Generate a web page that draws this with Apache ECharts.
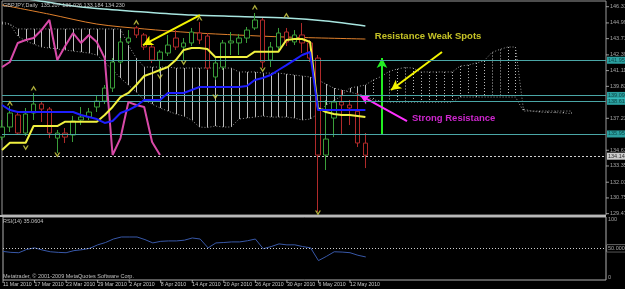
<!DOCTYPE html>
<html><head><meta charset="utf-8">
<script src="https://cdn.jsdelivr.net/npm/echarts/dist/echarts.min.js"></script>
<style>html,body{margin:0;padding:0;background:#000;}#c{width:625px;height:289px;}</style>
</head><body><div id="c"></div>
<script>
// ---- data ----
const dateLabels = ["11 Mar 2010","17 Mar 2010","23 Mar 2010","29 Mar 2010","2 Apr 2010","8 Apr 2010","14 Apr 2010","20 Apr 2010","26 Apr 2010","30 Apr 2010","6 May 2010","12 May 2010"];
const dateLabelBars = [0,4,8,12,16,20,24,28,32,36,40,44];

const openP  = [135.70,136.52,137.50,136.03,137.66,138.39,137.98,135.62,136.03,135.87,137.09,137.33,138.15,138.63,139.69,141.81,143.44,144.58,144.01,143.03,141.97,142.54,143.76,143.03,143.36,144.17,143.92,140.59,141.40,143.36,143.36,143.76,144.58,145.23,141.97,143.03,144.25,143.44,144.01,143.36,142.13,134.24,137.25,138.55,138.31,137.80,135.21];
const closeP = [136.52,137.66,136.03,137.58,138.39,137.98,136.03,136.03,135.70,137.01,137.33,137.74,138.63,139.69,141.81,143.44,143.76,144.01,143.03,141.97,142.62,143.19,143.03,143.36,144.25,143.60,141.32,141.73,143.36,143.52,143.76,144.41,145.23,141.81,143.03,144.17,143.44,144.01,143.36,142.13,134.24,135.54,138.55,138.31,138.07,135.22,134.23];
const highP  = [137.09,138.23,137.66,138.07,139.29,138.55,138.15,136.28,136.44,137.42,138.15,138.07,139.04,139.94,142.13,143.76,144.41,144.74,144.17,143.19,142.79,144.01,144.41,143.76,144.58,145.06,144.17,142.13,143.60,144.25,144.09,144.66,145.80,145.39,143.44,144.58,144.58,144.41,144.98,143.60,142.38,138.72,138.72,139.53,138.72,139.29,136.03];
const lowP   = [135.46,136.11,135.87,135.79,137.09,136.93,135.62,134.41,135.22,135.30,136.68,137.09,137.74,138.39,139.37,141.64,143.27,143.76,142.79,141.73,140.91,142.30,142.79,141.97,143.11,143.27,141.16,140.35,141.16,142.38,142.38,143.36,144.41,141.32,141.40,142.79,143.11,143.19,142.54,141.81,129.60,133.02,135.70,135.87,136.68,134.89,133.18];

const tenkan = [134.65,135.24,135.24,135.24,136.60,136.60,136.60,136.60,136.95,136.95,136.95,136.95,136.95,137.50,138.15,138.96,139.29,139.94,140.67,140.91,141.16,141.40,141.97,142.79,142.95,142.95,142.87,142.22,142.22,142.22,142.22,142.22,142.65,142.65,142.65,142.65,143.60,143.68,143.68,143.44,138.07,137.74,137.58,137.50,137.50,137.42,137.33];
const kijun  = [138.31,137.90,137.74,137.74,137.74,137.74,137.74,137.74,137.74,137.74,137.50,137.33,137.17,136.85,137.01,137.66,137.90,138.23,138.72,138.72,138.72,139.29,139.29,139.29,139.53,139.78,139.78,139.78,139.78,139.78,139.78,139.86,140.35,140.51,140.75,141.16,141.56,141.97,142.38,142.62,137.90,137.90,137.90,137.90,137.90,137.90,137.90];
const chikou = [141.40,141.81,143.36,143.60,143.76,144.41,145.23,141.97,143.11,144.17,143.36,144.01,143.44,142.13,134.24,135.62,138.55,138.31,138.15,135.30,134.24];
const senkouA = [144.90,144.90,143.92,143.52,143.27,143.03,142.95,142.87,142.79,142.70,142.62,142.54,142.38,141.81,141.16,140.51,139.94,139.37,138.72,138.39,138.07,137.82,137.58,137.42,137.09,136.52,136.48,136.60,136.52,136.52,137.17,137.25,137.33,137.42,137.33,137.33,137.33,137.25,137.09,137.17,137.58,138.31,138.64,139.08,139.69,139.81,139.94,140.35,140.63,141.04,141.24,141.36,141.32,141.00,141.00,141.00,141.00,141.00,141.48,141.56,141.73,141.89,142.58,142.83,143.03,143.03,137.98,137.82,137.74,137.70,137.70,137.66,137.62];
const senkouB = [145.07,144.90,144.50,144.50,144.50,144.50,144.50,144.50,144.50,144.50,144.50,144.50,144.50,144.50,144.50,144.50,143.19,142.13,141.40,141.40,141.40,141.40,141.32,141.32,141.32,141.32,141.32,141.32,141.32,141.32,141.00,141.00,141.00,140.91,140.91,140.91,140.83,140.75,140.67,140.59,140.35,140.02,139.69,139.53,139.37,139.20,139.04,138.72,138.64,138.55,138.55,138.55,138.55,138.55,138.55,138.55,138.55,138.55,138.96,138.96,138.96,138.96,138.96,138.96,138.96,138.96,137.82,137.82,137.82,137.82,137.82,137.82,137.82];

const maOrangeBars = [0,6,12,18,24,30,36,46];
const maOrangeVals = [146.45,145.70,144.90,144.50,144.20,144.00,143.84,143.68];
const maCyanBars = [2,4,8,12,18,24,30,36,41,46];
const maCyanVals = [147.05,146.86,146.45,146.16,145.88,145.63,145.51,145.39,145.15,144.74];

const rsi = [44.6,43,42.4,48,50.8,47,44,43,42.4,46,47.5,50,55.9,60,66,69.5,69.5,69.5,65,59.3,62,62.7,62.7,64,67.8,66,50.8,59.3,60,61,61,63,66,49.2,53,57.6,55.9,56,53,50.8,28.8,36,44,43.5,42.4,38,35.06];

const fractalUpBars = [1,4,17,25,32,36];
const fractalUpVals = [138.47,139.69,145.07,145.39,146.28,145.63];
const fractalDnBars = [3,7,20,23,27,33,40];
const fractalDnVals = [134.81,134.24,140.59,141.73,138.96,141.16,129.52];

const priceTicks = [146.310,144.990,143.710,142.390,141.110,139.830,137.230,134.630,133.350,132.030,130.750,129.470];
const levelLines = [141.952,139.091,138.610,135.954];
const bidPrice = 134.145;
const rsiTicks = [100,0];
const rsiLevel = 50;

const annotationArrows = [
  {from:[25.06,145.63], to:[17.85,143.19], color:'#f4f400'},
  {from:[55.70,142.62], to:[49.24,139.53], color:'#f4f400'},
  {from:[48.10,135.95], to:[48.10,142.14], color:'#22ee22'},
  {from:[51.27,137.00], to:[45.30,139.12], color:'#ff30ff'}
];
const annotationTexts = [
  {at:[47.2,143.93], text:'Resistance Weak Spots', color:'#f4f030'},
  {at:[51.9,137.25], text:'Strong Resistance', color:'#ff30ff'}
];

// ---- chart ----
const X_MAX = 76.46;
const lastBar = openP.length - 1;
const FONT = 'Liberation Sans';
const chart = echarts.init(document.getElementById('c'));

const ohlc = openP.map((o,i)=>[i,o,closeP[i],lowP[i],highP[i]]);
const idx = a => a.map((v,i)=>[i,v]);
const pairs = (b,v) => b.map((x,i)=>[x,v[i]]);

const upPath = 'path://M0,7 L4,0 L8,7 L6,7 L4,3.5 L2,7 Z';
const dnPath = 'path://M0,0 L4,7 L8,0 L6,0 L4,3.5 L2,0 Z';

chart.setOption({
  backgroundColor:'#000',
  animation:false,
  grid:[
    {left:2, right:19, top:1, height:214, show:true, borderColor:'#9a9a9a', borderWidth:1, backgroundColor:'transparent'},
    {left:2, right:19, top:217, height:63, show:true, borderColor:'#b0b0b0', borderWidth:1}
  ],
  xAxis:[
    {type:'value', gridIndex:0, min:0, max:X_MAX, show:false},
    {type:'value', gridIndex:1, min:0, max:X_MAX, interval:4,
     axisLine:{show:false}, axisTick:{show:false}, splitLine:{show:false},
     axisLabel:{show:true, margin:2, align:'left', color:'#c8c8c8', fontSize:5.2, fontFamily:FONT,
       showMaxLabel:false,
       formatter:v=>{const k=dateLabelBars.indexOf(v); return k>=0?dateLabels[k]:'';}}}
  ],
  yAxis:[
    {type:'value', gridIndex:0, min:129.361, max:146.774, show:false},
    {type:'value', gridIndex:1, min:-4.66, max:103.97, show:false}
  ],
  graphic:[
    {type:'rect', shape:{x:0,y:215,width:606,height:2}, style:{fill:'#b8b8b8'}, z:100},
    {type:'text', x:3, y:5, style:{text:'GBPJPY,Daily  135.207 136.026 133.184 134.230', fill:'#c0c0c0', font:'5.5px '+FONT, verticalAlign:'middle'}, z:100},
    {type:'text', x:3, y:221, style:{text:'RSI(14) 35.0604', fill:'#c0c0c0', font:'5.5px '+FONT, verticalAlign:'middle'}, z:100},
    {type:'text', x:3, y:276.5, style:{text:'Metatrader, \u00a9 2001-2009 MetaQuotes Software Corp.', fill:'#c0c0c0', font:'5.5px '+FONT, verticalAlign:'middle'}, z:100}
  ],
  series:[
    // cloud hatch
    {type:'custom', xAxisIndex:0, yAxisIndex:0, z:1, silent:true,
     data: senkouA.map((a,i)=>[i,a,senkouB[i]]),
     renderItem:(params, api)=>{
       const i = api.value(0);
       const p1 = api.coord([i, api.value(1)]);
       const p2 = api.coord([i, api.value(2)]);
       const x = Math.round(p1[0]) + 0.5;
       return {type:'line', shape:{x1:x,y1:p1[1],x2:x,y2:p2[1]},
         style:{stroke:'#bdbdbd', lineWidth:1, lineDash: i>lastBar ? [1,2] : null}};
     }},
    {type:'line', xAxisIndex:0, yAxisIndex:0, z:2, data:idx(senkouA), symbol:'none',
     lineStyle:{color:'#9a9a9a', width:1, type:[1,2]}, silent:true},
    {type:'line', xAxisIndex:0, yAxisIndex:0, z:2, data:idx(senkouB), symbol:'none',
     lineStyle:{color:'#9a9a9a', width:1, type:[1,2]}, silent:true},
    // MAs
    {type:'line', xAxisIndex:0, yAxisIndex:0, z:3, data:pairs(maOrangeBars,maOrangeVals), symbol:'none', smooth:0.3,
     lineStyle:{color:'#e0802c', width:1}},
    {type:'line', xAxisIndex:0, yAxisIndex:0, z:3, data:pairs(maCyanBars,maCyanVals), symbol:'none', smooth:0.3,
     lineStyle:{color:'#a8e6e0', width:1.5}},
    // candles
    {type:'candlestick', xAxisIndex:0, yAxisIndex:0, z:4, data:ohlc, barWidth:5, clip:false,
     itemStyle:{color:'#000', color0:'#000', borderColor:'#3a9e3a', borderColor0:'#b02a2a', borderWidth:1}},
    // chikou
    {type:'line', xAxisIndex:0, yAxisIndex:0, z:5, data:idx(chikou), symbol:'none',
     lineStyle:{color:'#d84aa8', width:2}},
    // tenkan
    {type:'line', xAxisIndex:0, yAxisIndex:0, z:6, data:idx(tenkan), symbol:'none',
     lineStyle:{color:'#f0f040', width:2},
     markLine:{silent:true, symbol:['none','none'], label:{show:false},
       data: annotationArrows.map(a=>[
         {coord:a.from, symbol:'none', lineStyle:{color:a.color, width:2, type:'solid'}},
         {coord:a.to, symbol:'arrow', symbolSize:[8,10], lineStyle:{color:a.color, width:2, type:'solid'}}
       ])}},
    // kijun
    {type:'line', xAxisIndex:0, yAxisIndex:0, z:6, data:idx(kijun), symbol:'none',
     lineStyle:{color:'#1e1eff', width:2},
     markLine:{silent:true, symbol:['none','none'], label:{show:false},
       data: levelLines.map(v=>({yAxis:v, lineStyle:{color:'#4aa6a6', width:1, type:'solid'}}))
         .concat([{yAxis:bidPrice, lineStyle:{color:'#d0d0d0', width:1, type:[2,2]}}])}},
    // fractals
    {type:'scatter', xAxisIndex:0, yAxisIndex:0, z:7, data:pairs(fractalUpBars,fractalUpVals),
     symbol:upPath, symbolSize:[6,5], itemStyle:{color:'#d8d84a'}},
    {type:'scatter', xAxisIndex:0, yAxisIndex:0, z:7, data:pairs(fractalDnBars,fractalDnVals),
     symbol:dnPath, symbolSize:[6,5], itemStyle:{color:'#d8d84a'}},
    // annotation texts
    {type:'scatter', xAxisIndex:0, yAxisIndex:0, z:8, clip:false, symbolSize:0,
     data: annotationTexts.map(t=>({value:t.at, label:{color:t.color}, name:t.text})),
     label:{show:true, position:'right', distance:0, fontSize:9.5, fontWeight:'bold', fontFamily:FONT,
       formatter:p=>p.name}},
    // price tick labels
    {type:'scatter', xAxisIndex:0, yAxisIndex:0, z:9, clip:false,
     data: priceTicks.map(v=>[X_MAX,v]), symbol:'rect', symbolSize:[3,1], symbolOffset:[1.5,0],
     itemStyle:{color:'#c0c0c0'},
     label:{show:true, position:'right', distance:1, color:'#c8c8c8', fontSize:5.5, fontFamily:FONT,
       formatter:p=>p.value[1].toFixed(3)}},
    // level labels
    {type:'scatter', xAxisIndex:0, yAxisIndex:0, z:10, clip:false,
     data: levelLines.map(v=>[X_MAX,v]), symbolSize:0,
     label:{show:true, position:'right', distance:1, color:'#003030', backgroundColor:'#36c8c8',
       padding:[1,3,0,1], fontSize:5.5, fontFamily:FONT, formatter:p=>p.value[1].toFixed(3)}},
    {type:'scatter', xAxisIndex:0, yAxisIndex:0, z:10, clip:false,
     data: [[X_MAX,bidPrice]], symbolSize:0,
     label:{show:true, position:'right', distance:1, color:'#000', backgroundColor:'#ffffff',
       padding:[1,3,0,1], fontSize:5.5, fontFamily:FONT, formatter:p=>p.value[1].toFixed(3)}},
    // RSI
    {type:'line', xAxisIndex:1, yAxisIndex:1, data:idx(rsi), symbol:'none',
     lineStyle:{color:'#3858a8', width:1},
     markLine:{silent:true, symbol:['none','none'], label:{show:false},
       data:[{yAxis:rsiLevel, lineStyle:{color:'#d0d0d0', width:1, type:[1,2]}}]}},
    {type:'scatter', xAxisIndex:1, yAxisIndex:1, clip:false,
     data: rsiTicks.map(v=>[X_MAX,v]), symbolSize:0,
     label:{show:true, position:'right', distance:2, color:'#c8c8c8', fontSize:5.5, fontFamily:FONT,
       formatter:p=>String(p.value[1])}},
    {type:'scatter', xAxisIndex:1, yAxisIndex:1, clip:false,
     data: [[X_MAX,rsiLevel]], symbolSize:0,
     label:{show:true, position:'right', distance:1, color:'#d0d0d0', backgroundColor:'#000', borderColor:'#c0c0c0', borderWidth:0.5,
       padding:[1,3,0,1], fontSize:5.5, fontFamily:FONT, formatter:p=>p.value[1].toFixed(3)}},
    // date ticks
    {type:'scatter', xAxisIndex:1, yAxisIndex:1, clip:false,
     data: dateLabelBars.map(b=>[b,-4.66]), symbol:'rect', symbolSize:[1,3], symbolOffset:[0,1.5],
     itemStyle:{color:'#c0c0c0'}}
  ]
});
</script></body></html>
